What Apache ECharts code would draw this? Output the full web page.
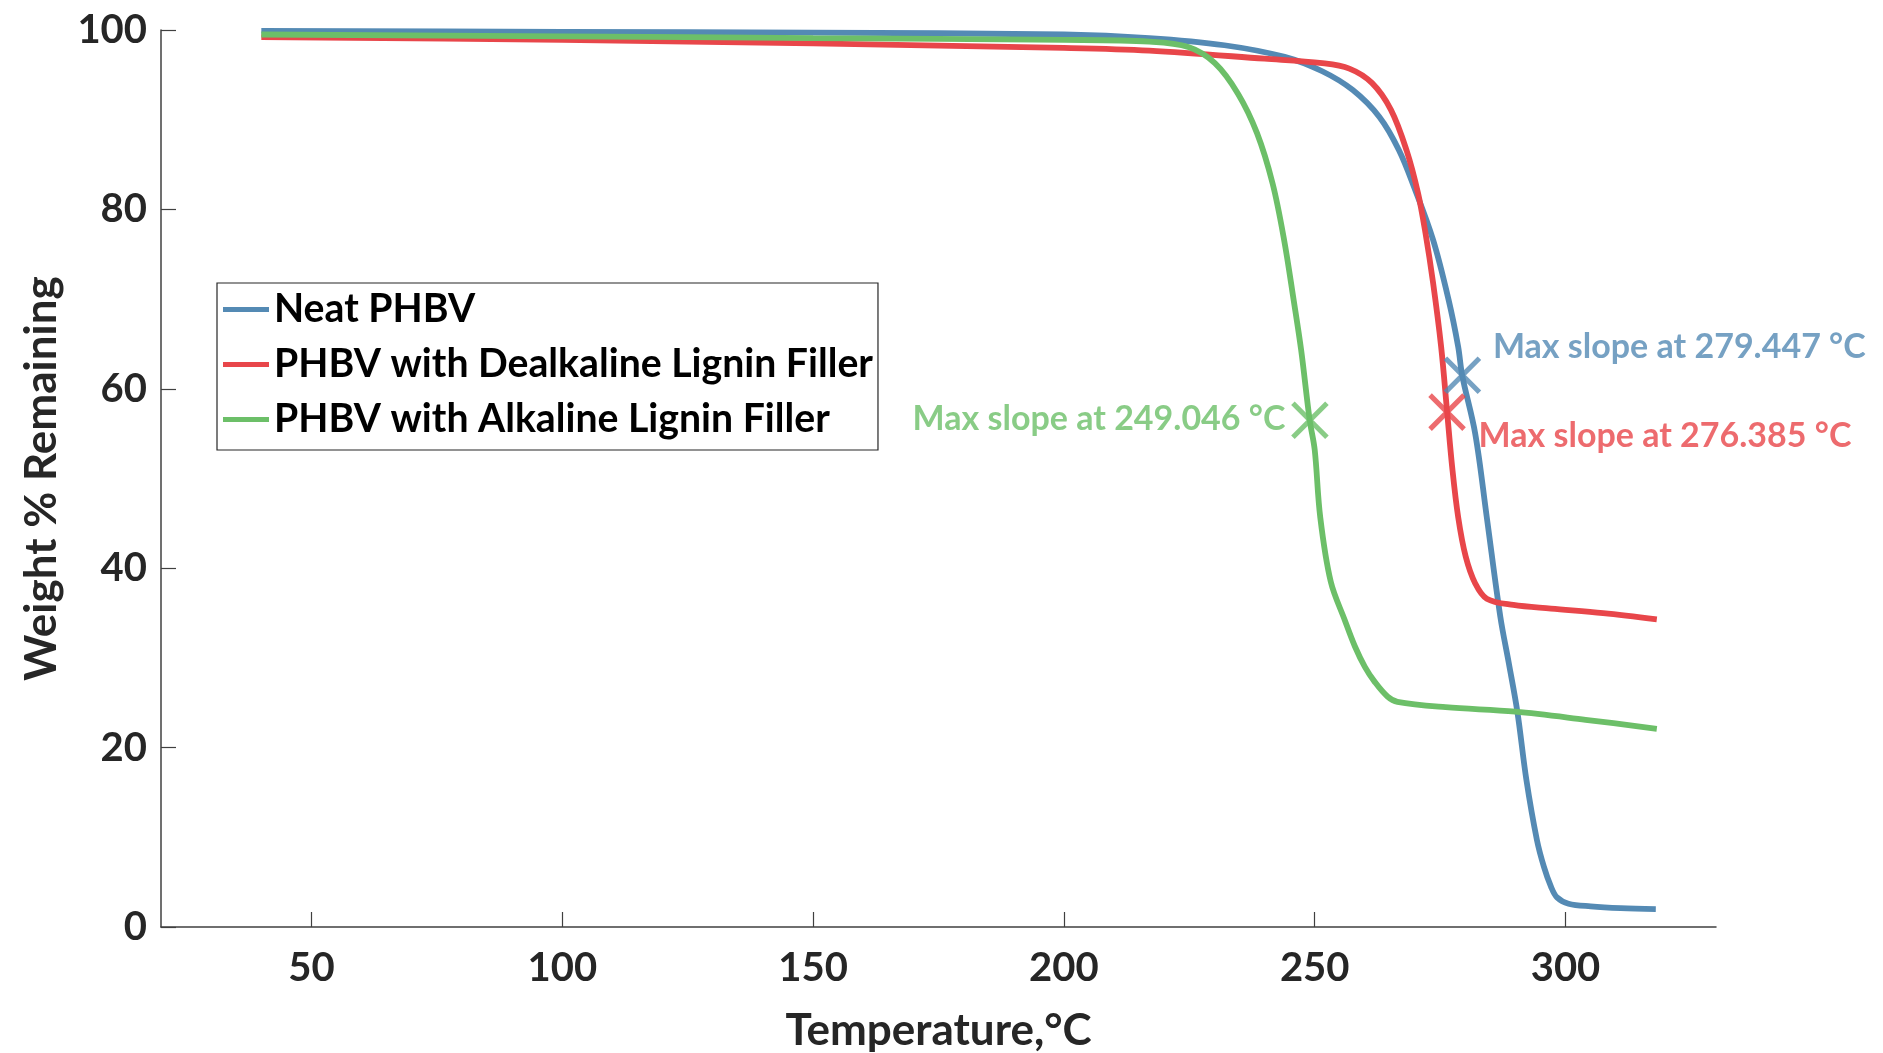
<!DOCTYPE html>
<html>
<head>
<meta charset="utf-8">
<title>TGA curves</title>
<script src="https://cdn.jsdelivr.net/npm/echarts@6/dist/echarts.min.js"></script>
<style>
    html, body { margin: 0; padding: 0; background: #fff; }
    #chart { width: 1883px; height: 1053px; }
</style>
</head>
<body>
<div id="chart"></div>
<script>
// temperature (°C) / weight %
const neatT = [40, 100, 150, 200, 217, 232, 244, 251.5, 257.6, 262.9, 266.8, 269.8, 273.6, 276.7, 278.6, 279.4, 282, 284.3, 287, 288.7, 290.4, 292.2, 294.3, 295.7, 297.1, 298.3, 300.6, 305, 311, 318];
const neatW = [99.9, 99.8, 99.7, 99.5, 99.1, 98.3, 97.0, 95.4, 93.3, 90.3, 86.6, 82.5, 76.6, 69.9, 64.7, 61.5, 55.0, 45.7, 34.6, 29.4, 24.0, 16.4, 9.7, 6.7, 4.5, 3.3, 2.6, 2.3, 2.1, 2.0];

const dealkT = [40, 100, 150, 200, 217, 240, 251.5, 256.9, 261.4, 265.2, 268.3, 270.6, 272.1, 273.6, 275.2, 276.4, 277.4, 278.6, 280.1, 282, 284.3, 289.6, 297.1, 307.5, 318.2];
const dealkW = [99.2, 98.9, 98.5, 98.0, 97.7, 96.8, 96.3, 95.7, 94.1, 91.1, 86.6, 81.8, 77.3, 71.8, 64.7, 57.4, 51.3, 45.7, 41.3, 38.3, 36.6, 35.9, 35.5, 35.0, 34.3];

const alkT = [40, 100, 150, 200, 217, 224.8, 230.1, 234.7, 238.5, 241.6, 243.9, 245.8, 247.3, 249, 250, 251.1, 253.2, 256, 258, 260, 262, 264.5, 266.5, 276.1, 290, 304, 318.2];
const alkW = [99.5, 99.3, 99.1, 98.9, 98.7, 98.1, 96.3, 92.9, 88.5, 82.9, 76.6, 69.9, 64.3, 56.5, 53.2, 45.7, 38.5, 34.2, 31.3, 29.0, 27.3, 25.7, 25.1, 24.5, 24.0, 23.1, 22.1];

const seriesNames = ['Neat PHBV', 'PHBV with Dealkaline Lignin Filler', 'PHBV with Alkaline Lignin Filler'];
const seriesColors = ['#548ab4', '#e8464a', '#6cbf68'];

// max slope points
const slopeT = [279.447, 276.385, 249.046];
const slopeW = [61.5, 57.4, 56.5];

const xTicks = [50, 100, 150, 200, 250, 300];

const FONT = 'Lato';
const AXIS_COLOR = '#404040';

function pairs(xs, ys) {
    return xs.map((x, i) => [x, ys[i]]);
}

const chart = echarts.init(document.getElementById('chart'));

const curves = [pairs(neatT, neatW), pairs(dealkT, dealkW), pairs(alkT, alkW)];

const labelPlace = [
    { position: 'right', distance: 0, offset: [11, -28] },
    { position: 'right', distance: 0, offset: [12, 24] },
    { position: 'left', distance: 5, offset: [0, -1] },
];

const lineSeries = curves.map((data, i) => ({
    name: seriesNames[i],
    type: 'line',
    data: data,
    symbol: 'none',
    smooth: 0.35,
    lineStyle: { color: seriesColors[i], width: 5.8 },
    itemStyle: { color: seriesColors[i] },
    z: 2 + i,
}));

const markerSeries = slopeT.map((t, i) => ({
    type: 'scatter',
    symbol: 'path://M0,0L10,10M10,0L0,10',
    symbolSize: 34,
    itemStyle: { color: 'rgba(0,0,0,0)', borderColor: seriesColors[i], borderWidth: 5 },
    z: 10,
    data: [{
        value: [t, slopeW[i]],
        label: {
            show: true,
            formatter: 'Max slope at ' + t.toFixed(3) + ' °C',
            color: seriesColors[i],
            fontFamily: FONT,
            fontWeight: 'bold',
            fontSize: 34,
            position: labelPlace[i].position,
            distance: labelPlace[i].distance,
            offset: labelPlace[i].offset,
        },
    }],
}));

const option = {
    animation: false,
    backgroundColor: '#fff',
    grid: {
        left: 161,
        right: 167,
        top: 30,
        bottom: 126,
        outerBoundsMode: 'none',
    },
    legend: {
        data: seriesNames.map((n) => ({ name: n, icon: 'rect' })),
        orient: 'vertical',
        left: 217,
        top: 283,
        padding: [6, 5, 10, 6],
        itemGap: 14,
        itemWidth: 46,
        itemHeight: 5,
        borderColor: '#262626',
        borderWidth: 1.2,
        textStyle: {
            fontFamily: FONT,
            fontWeight: 'bold',
            fontSize: 39.2,
            lineHeight: 41,
            color: '#000',
        },
    },
    xAxis: {
        type: 'value',
        min: 20,
        max: 330,
        name: 'Temperature,°C',
        nameLocation: 'middle',
        nameGap: 82,
        nameTextStyle: { fontFamily: FONT, fontWeight: 'bold', fontSize: 44, color: '#262626' },
        axisLine: { onZero: false, lineStyle: { color: AXIS_COLOR, width: 1.5 } },
        axisTick: { inside: true, length: 15, customValues: xTicks, lineStyle: { color: AXIS_COLOR, width: 1.2 } },
        axisLabel: { customValues: xTicks, margin: 21, fontFamily: FONT, fontWeight: 'bold', fontSize: 40, color: '#262626' },
        splitLine: { show: false },
    },
    yAxis: {
        type: 'value',
        min: 0,
        max: 100,
        interval: 20,
        name: 'Weight % Remaining',
        nameLocation: 'middle',
        nameGap: 97,
        nameTextStyle: { fontFamily: FONT, fontWeight: 'bold', fontSize: 44, color: '#262626' },
        axisLine: { show: true, lineStyle: { color: AXIS_COLOR, width: 1.5 } },
        axisTick: { show: true, inside: true, length: 15, lineStyle: { color: AXIS_COLOR, width: 1.2 } },
        axisLabel: { margin: 14, fontFamily: FONT, fontWeight: 'bold', fontSize: 40, color: '#262626' },
        splitLine: { show: false },
    },
    series: lineSeries.concat(markerSeries),
};

chart.setOption(option);
</script>
</body>
</html>
